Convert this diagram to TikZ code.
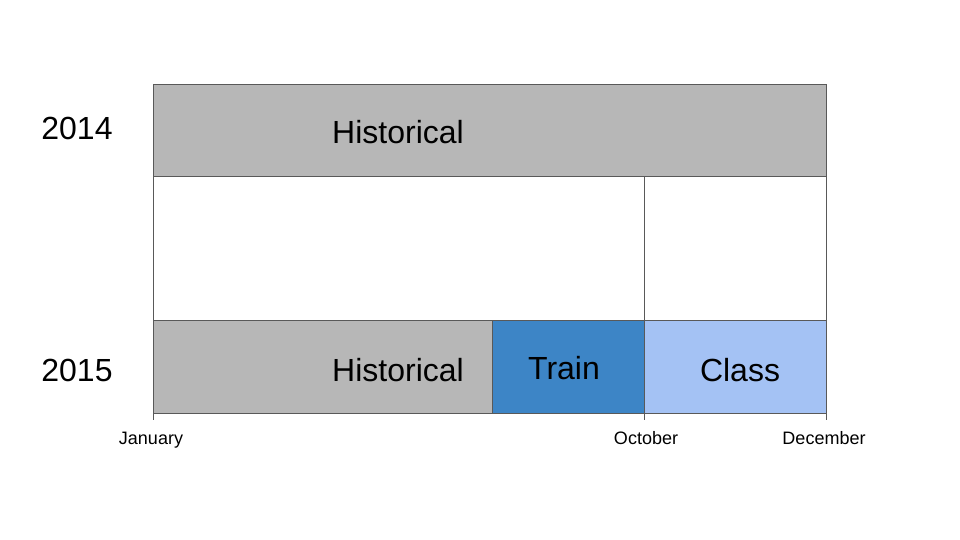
\documentclass[tikz,border=0pt]{standalone}
\usepackage{fontspec}
\setmainfont{Liberation Sans}
\definecolor{histgray}{HTML}{B7B7B7}
\definecolor{trainblue}{HTML}{3D85C6}
\definecolor{classblue}{HTML}{A4C2F4}
\definecolor{edgegray}{HTML}{595959}
\begin{document}
\begin{tikzpicture}[x=1pt,y=-1pt,
  bar/.style={draw=edgegray,line width=1pt},
  rule/.style={draw=edgegray,line width=1pt},
  big/.style={font=\fontsize{32}{36}\selectfont,inner sep=0pt,anchor=center},
  month/.style={font=\fontsize{18}{20}\selectfont,inner sep=0pt,anchor=base}]
\useasboundingbox (0,0) rectangle (960,540);
% 2014 row
\path[bar,fill=histgray] (153,85) rectangle (826,177);
% 2015 row
\path[bar,fill=histgray] (153,320) rectangle (492,413);
\path[bar,fill=trainblue] (492,320) rectangle (644,413);
\path[bar,fill=classblue] (644,320) rectangle (826,413);
% frame between rows and month ticks
\draw[rule] (153,177) -- (153,420);
\draw[rule] (644,177) -- (644,420);
\draw[rule] (826,177) -- (826,420);
% labels
\node[big] (y14) at (77,128) {2014};
\node[big] (y15) at (77,370) {2015};
\node[big] (h14) at (398,132) {Historical};
\node[big] (h15) at (398,370) {Historical};
\node[big] (tr) at (564,368) {Train};
\node[big] (cl) at (740,370) {Class};
\node[month] (jan) at (151,444) {January};
\node[month] (oct) at (646,444) {October};
\node[month] (dec) at (824,444) {December};
\end{tikzpicture}
\end{document}
